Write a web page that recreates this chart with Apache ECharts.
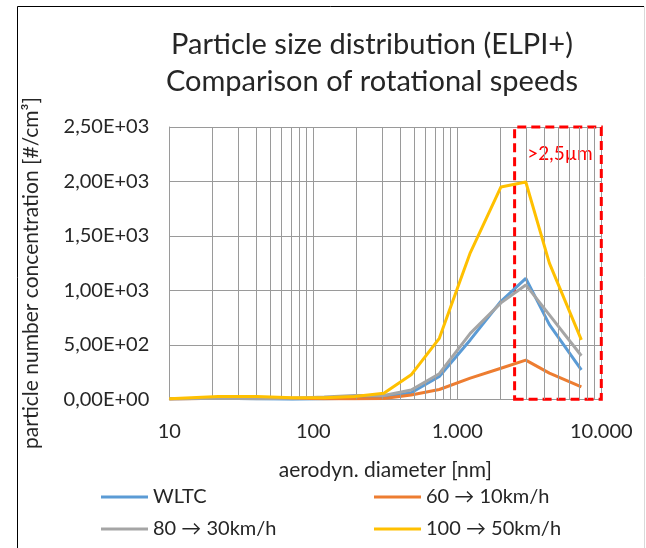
<!DOCTYPE html>
<html>
<head>
<meta charset="utf-8">
<script src="https://cdn.jsdelivr.net/npm/echarts@6/dist/echarts.min.js"></script>
<style>
html,body{margin:0;padding:0;background:#fff;}
#chart{width:646px;height:548px;}
</style>
</head>
<body>
<div id="chart"></div>
<script>
// aerodynamic diameter of ELPI+ stages [nm]
var diameters = [10, 21.9, 40.4, 71.7, 119, 193, 309, 478, 750, 1230, 2010, 2990, 4360, 7270];
var seriesNames = ['WLTC', '60 \u2192 10km/h', '80 \u2192 30km/h', '100 \u2192 50km/h'];
var wltc   = [5, 10, 5, 0, 5, 10, 20, 60, 210, 545, 900, 1110, 685, 270];
var s60to10 = [3, 10, 15, 10, 5, 5, 8, 40, 90, 195, 285, 360, 240, 115];
var s80to30 = [3, 10, 5, 10, 20, 35, 35, 85, 235, 605, 885, 1050, 775, 400];
var s100to50 = [5, 25, 25, 15, 15, 25, 55, 225, 560, 1345, 1950, 1995, 1250, 545];
var xTickValues = [10, 100, 1000, 10000];
var xTickLabels = ['10', '100', '1.000', '10.000'];
var yTickValues = [0, 500, 1000, 1500, 2000, 2500];
var yTickLabels = ['0,00E+00', '5,00E+02', '1,00E+03', '1,50E+03', '2,00E+03', '2,50E+03'];
var minorGridValues = [20,30,40,50,60,70,80,90,200,300,400,500,600,700,800,900,2000,3000,4000,5000,6000,7000,8000,9000];
var regionX = [2500, 10000];
var regionY = [0, 2500];
var regionLabel = '>2,5\u00b5m';
var titleLines = ['Particle size distribution (ELPI+)', 'Comparison of rotational speeds'];
var xName = 'aerodyn. diameter [nm]';
var yName = 'particle number concentration [#/cm\u00b3]';

var colors = ['#5B9BD5', '#ED7D31', '#A5A5A5', '#FFC000'];
var values = [wltc, s60to10, s80to30, s100to50];
var FONT = 'Lato';
var TXT = '#262626';

function pairs(v) { return diameters.map(function (d, i) { return [d, v[i]]; }); }

var series = [{
  type: 'line', name: '_helper', data: [], z: 1, silent: true,
  markLine: {
    silent: true, symbol: ['none', 'none'], animation: false,
    label: { show: false },
    lineStyle: { color: '#9a9a9a', width: 1, type: 'solid' },
    data: minorGridValues.map(function (v) { return { xAxis: v }; })
  },
  markArea: {
    silent: true, animation: false,
    itemStyle: { color: 'rgba(0,0,0,0)', borderColor: '#FF0000', borderWidth: 3, borderType: [9, 5] },
    label: { show: true, position: 'insideTop', distance: 19, offset: [2, 0], color: '#FF0000', fontFamily: FONT, fontSize: 19, formatter: regionLabel },
    data: [[{ xAxis: regionX[0], yAxis: regionY[0] }, { xAxis: regionX[1], yAxis: regionY[1] }]]
  }
}];
seriesNames.forEach(function (n, i) {
  series.push({
    type: 'line', name: n, data: pairs(values[i]), z: 3 + i,
    showSymbol: false, symbol: 'none', smooth: false,
    lineStyle: { color: colors[i], width: 3 }, itemStyle: { color: colors[i] }
  });
});

var legendPos = [[101, 486], [374, 486], [101, 518], [374, 518]];
var legends = seriesNames.map(function (n, i) {
  return {
    data: [n], left: legendPos[i][0], top: legendPos[i][1], padding: 0,
    icon: 'rect', itemWidth: 47, itemHeight: 3, itemTextGap: 2,
    textStyle: { fontFamily: FONT, fontSize: 20, color: TXT, lineHeight: 22 }
  };
});

var chart = echarts.init(document.getElementById('chart'), null, { renderer: 'canvas' });
chart.setOption({
  animation: false,
  backgroundColor: '#fff',
  color: colors,
  title: {
    text: titleLines.join('\n'), left: 367, top: 21, textAlign: 'center',
    textStyle: { fontFamily: FONT, fontSize: 29, fontWeight: 'normal', color: TXT, lineHeight: 37 }
  },
  grid: { left: 169.3, right: 44.7, top: 127, bottom: 148.7, containLabel: false },
  legend: legends,
  xAxis: {
    type: 'log', logBase: 10, min: xTickValues[0], max: xTickValues[xTickValues.length - 1],
    name: xName, nameLocation: 'middle', nameGap: 60,
    nameTextStyle: { fontFamily: FONT, fontSize: 21, color: TXT },
    axisLine: { show: true, lineStyle: { color: '#9a9a9a', width: 1 } },
    axisTick: { show: false },
    axisLabel: {
      fontFamily: FONT, fontSize: 20, color: TXT, margin: 22,
      formatter: function (v) { var i = xTickValues.indexOf(Math.round(v)); return i >= 0 ? xTickLabels[i] : ''; }
    },
    splitLine: { show: true, lineStyle: { color: '#9a9a9a', width: 1 } },
    minorTick: { show: false }, minorSplitLine: { show: false }
  },
  yAxis: {
    type: 'value', min: 0, max: 2500, interval: 500,
    axisLine: { show: true, lineStyle: { color: '#9a9a9a', width: 1 } },
    axisTick: { show: false },
    axisLabel: {
      fontFamily: FONT, fontSize: 20, color: TXT, margin: 20,
      formatter: function (v) { var i = yTickValues.indexOf(v); return i >= 0 ? yTickLabels[i] : ''; }
    },
    splitLine: { show: true, lineStyle: { color: '#9a9a9a', width: 1 } }
  },
  graphic: [
    { type: 'line', shape: { x1: 17.5, y1: 6.5, x2: 644, y2: 6.5 }, style: { stroke: '#000', lineWidth: 1 }, silent: true },
    { type: 'line', shape: { x1: 17.5, y1: 6.5, x2: 17.5, y2: 548 }, style: { stroke: '#000', lineWidth: 1 }, silent: true },
    { type: 'line', shape: { x1: 644.5, y1: 6.5, x2: 644.5, y2: 548 }, style: { stroke: '#d9d9d9', lineWidth: 1 }, silent: true },
    {
      type: 'text', x: 31, y: 273, rotation: Math.PI / 2, silent: true,
      style: { text: yName, fontFamily: FONT, fontSize: 21, fill: TXT, align: 'center', verticalAlign: 'middle' }
    }
  ],
  series: series
});
</script>
</body>
</html>
